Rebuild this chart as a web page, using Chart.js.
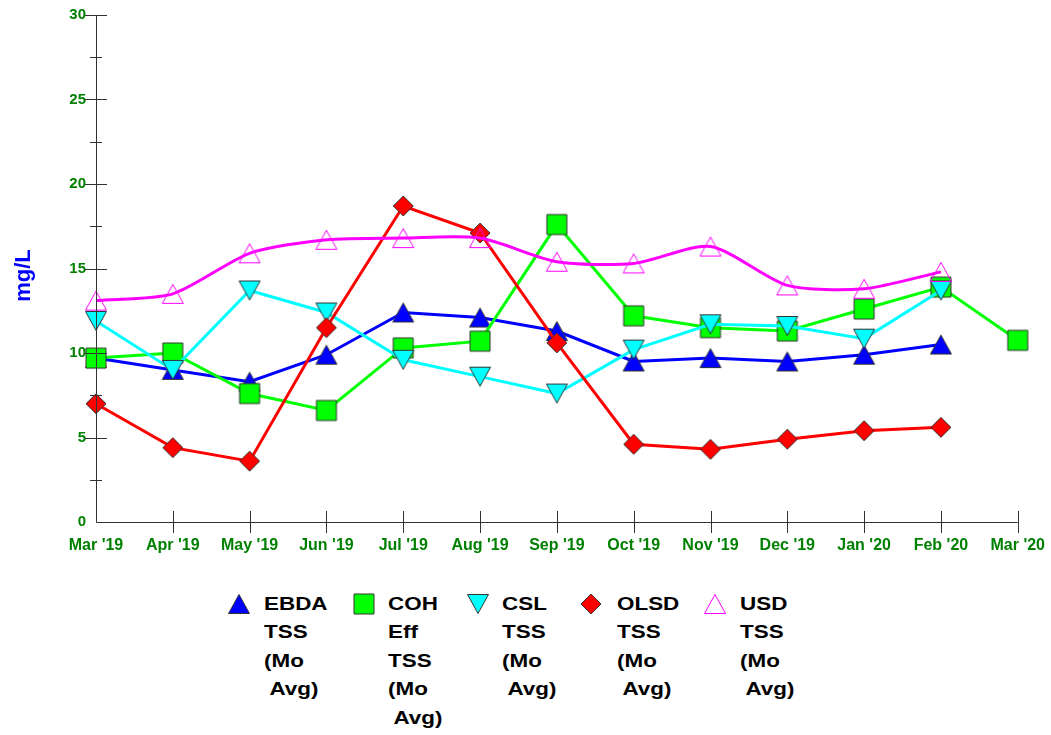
<!DOCTYPE html>
<html>
<head>
<meta charset="utf-8">
<script src="https://cdn.jsdelivr.net/npm/chart.js@4.4.1/dist/chart.umd.min.js"></script>
<style>
  html, body { margin: 0; padding: 0; background: #fff; }
  #wrap { position: relative; width: 1051px; height: 735px; overflow: hidden; }
  #box { position: absolute; left: 0; top: -4px; width: 1059px; height: 574px; }
  .legMark { position: absolute; }
  .legText { position: absolute; font: bold 19px Arial, "Liberation Sans", sans-serif; color: #000;
             line-height: 28.4px; white-space: pre; transform: scaleX(1.18); transform-origin: 0 0; }
</style>
</head>
<body>
<div id="wrap">
  <div id="box"><canvas id="tssChart"></canvas></div>
  <div id="legend"></div>
</div>
<script>
// --- data
const months = ["Mar '19", "Apr '19", "May '19", "Jun '19", "Jul '19", "Aug '19", "Sep '19",
                "Oct '19", "Nov '19", "Dec '19", "Jan '20", "Feb '20", "Mar '20"];
const seriesNames = ["EBDA TSS (Mo Avg)", "COH Eff TSS (Mo Avg)", "CSL TSS (Mo Avg)",
                     "OLSD TSS (Mo Avg)", "USD TSS (Mo Avg)"];
const ebda = [9.7, 9.0, 8.3, 9.9, 12.4, 12.1, 11.3, 9.5, 9.7, 9.5, 9.9, 10.5, null];
const coh  = [9.7, 10.0, 7.6, 6.6, 10.3, 10.7, 17.6, 12.2, 11.5, 11.3, 12.6, 13.9, 10.75];
const csl  = [11.9, 9.0, 13.7, 12.4, 9.6, 8.6, 7.6, 10.2, 11.7, 11.6, 10.85, 13.7, null];
const olsd = [7.0, 4.4, 3.6, 11.5, 18.7, 17.1, 10.6, 4.6, 4.3, 4.9, 5.4, 5.6, null];
const usd  = [13.1, 13.5, 15.9, 16.7, 16.8, 16.8, 15.4, 15.3, 16.3, 14.0, 13.8, 14.8, null];
const yTicks = { min: 0, max: 30, step: 2.5, labelEvery: 5 };
const yTitle = 'mg/L';

const tickGreen = '#008000';
const FONT = 'Arial, "Liberation Sans", sans-serif';

// --- marker images (used for points and legend)
function makeMarker(shape, fill, stroke) {
    const c = document.createElement('canvas');
    c.width = 24; c.height = 24;
    const g = c.getContext('2d');
    g.beginPath();
    if (shape === 'up') {
        g.moveTo(12, 2.5); g.lineTo(22.5, 21.5); g.lineTo(1.5, 21.5);
    } else if (shape === 'down') {
        g.moveTo(1.5, 2.5); g.lineTo(22.5, 2.5); g.lineTo(12, 21.5);
    } else if (shape === 'square') {
        g.rect(2, 2, 20, 20);
    } else if (shape === 'diamond') {
        g.moveTo(12, 2); g.lineTo(22, 12); g.lineTo(12, 22); g.lineTo(2, 12);
    }
    g.closePath();
    if (fill) { g.fillStyle = fill; g.fill(); }
    g.lineWidth = 1;
    g.strokeStyle = stroke;
    g.stroke();
    return c;
}

const markers = [
    makeMarker('up', '#0000ff', '#333333'),
    makeMarker('square', '#00ff00', '#333333'),
    makeMarker('down', '#00ffff', '#333333'),
    makeMarker('diamond', '#ff0000', '#333333'),
    makeMarker('up', null, '#ff00ff')
];
const colors = ['#0000ff', '#00ff00', '#00ffff', '#ff0000', '#ff00ff'];
const values = [ebda, coh, csl, olsd, usd];

// draw axes + crossing tick marks after the lines, like the original
const axisPlugin = {
    id: 'axisPlugin',
    afterDatasetsDraw(chart) {
        const { ctx, chartArea: a, scales: { x, y } } = chart;
        ctx.save();
        ctx.strokeStyle = '#333333';
        ctx.lineWidth = 1;
        ctx.beginPath();
        ctx.moveTo(a.left + 0.5, a.top);
        ctx.lineTo(a.left + 0.5, a.bottom + 0.5);
        ctx.lineTo(a.right, a.bottom + 0.5);
        for (let v = yTicks.min; v <= yTicks.max; v += yTicks.step) {
            if (v === 0) continue;
            const py = Math.round(y.getPixelForValue(v)) + 0.5;
            const len = (v % yTicks.labelEvery === 0) ? 11 : 6;
            ctx.moveTo(a.left - len, py);
            ctx.lineTo(a.left + len, py);
        }
        months.forEach((m, i) => {
            if (i === 0) return;
            const px = Math.round(x.getPixelForValue(i)) + 0.5;
            ctx.moveTo(px, a.bottom - 11);
            ctx.lineTo(px, a.bottom + 11);
        });
        ctx.stroke();

        // y title, placed a bit below the middle as in the original
        ctx.translate(24, (a.top + a.bottom) / 2 + 7);
        ctx.rotate(-Math.PI / 2);
        ctx.fillStyle = '#0000ff';
        ctx.font = 'bold 22px ' + FONT;
        ctx.textAlign = 'center';
        ctx.textBaseline = 'middle';
        ctx.fillText(yTitle, 0, 0);
        ctx.restore();
    }
};

const datasets = seriesNames.map((name, i) => ({
    label: name,
    data: values[i],
    borderColor: colors[i],
    backgroundColor: colors[i],
    borderWidth: 3,
    pointStyle: markers[i],
    pointRadius: 10,
    pointHoverRadius: 10,
    tension: i === 4 ? 0.25 : 0,
    spanGaps: false,
    order: 5 - i
}));

new Chart(document.getElementById('tssChart'), {
    type: 'line',
    data: { labels: months, datasets: datasets },
    options: {
        responsive: true,
        maintainAspectRatio: false,
        animation: false,
        layout: { padding: { top: 14, right: 33, bottom: 0, left: 0 } },
        plugins: {
            legend: { display: false },
            tooltip: { enabled: false }
        },
        scales: {
            x: {
                type: 'category',
                offset: false,
                grid: { display: false, drawTicks: false },
                border: { display: false },
                ticks: {
                    autoSkip: false,
                    maxRotation: 0,
                    padding: 14,
                    color: tickGreen,
                    font: { family: FONT, size: 16, weight: 'bold' }
                },
                afterFit: s => { s.height = 48; }
            },
            y: {
                min: yTicks.min,
                max: yTicks.max,
                grid: { display: false, drawTicks: false },
                border: { display: false },
                ticks: {
                    stepSize: yTicks.step,
                    padding: 10,
                    color: tickGreen,
                    font: { family: FONT, size: 15, weight: 'bold' },
                    callback: v => (v % yTicks.labelEvery === 0 ? v : '')
                },
                afterFit: s => { s.width = 96; }
            }
        }
    },
    plugins: [axisPlugin]
});

// --- legend (multi-line labels, one word per line)
const legend = document.getElementById('legend');
const markX = [227, 352, 466, 579, 703];
const textX = [264, 388, 502, 617, 740];
seriesNames.forEach((name, i) => {
    const img = document.createElement('img');
    img.src = markers[i].toDataURL();
    img.className = 'legMark';
    img.style.left = markX[i] + 'px';
    img.style.top = '592px';
    legend.appendChild(img);

    const lines = name.split(' ').map(w => (w === 'Avg)' ? ' ' + w : w));
    const t = document.createElement('div');
    t.className = 'legText';
    t.style.left = textX[i] + 'px';
    t.style.top = '590px';
    t.textContent = lines.join('\n');
    legend.appendChild(t);
});
</script>
</body>
</html>
